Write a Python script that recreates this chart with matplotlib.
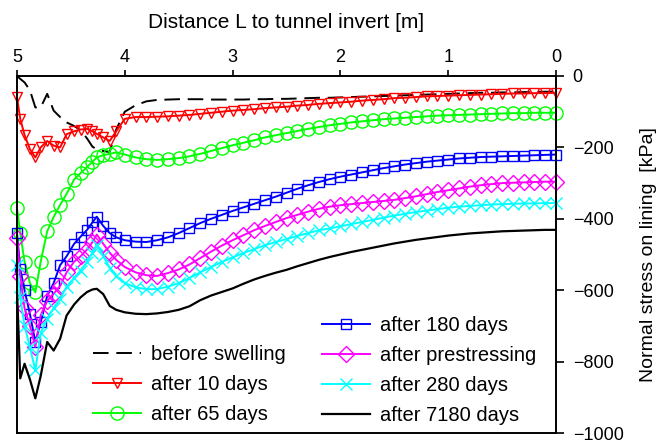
import matplotlib
matplotlib.use('Agg')
import matplotlib.pyplot as plt

plt.rcParams['font.family'] = ['Liberation Sans', 'DejaVu Sans']

# distance L to tunnel invert [m]
L = [5.0, 4.97, 4.93, 4.88, 4.83, 4.78, 4.72, 4.66, 4.60, 4.54, 4.47, 4.41, 4.35, 4.30, 4.26, 4.20, 4.14, 4.08, 4.00,
     3.9, 3.8, 3.7, 3.6, 3.5, 3.4, 3.3, 3.2, 3.1, 3.0, 2.9, 2.8, 2.7, 2.6, 2.5, 2.4, 2.3, 2.2, 2.1, 2.0,
     1.9, 1.8, 1.7, 1.6, 1.5, 1.4, 1.3, 1.2, 1.1, 1.0, 0.9, 0.8, 0.7, 0.6, 0.5, 0.4, 0.3, 0.2, 0.1, 0.0]

# normal stress on lining [kPa]
before_swelling = [0, -8, -18, -40, -88, -88, -50, -97, -115, -130, -140, -152, -175, -198, -205, -210, -213, -150, -100,
                   -82, -71, -67, -66, -65, -65, -65, -66, -66, -66, -66, -65, -65, -64, -64, -63, -62, -61, -61, -60,
                   -59, -58, -57, -56, -55, -54, -53, -52, -51, -50, -49, -48, -47, -47, -46, -46, -45, -45, -44, -44]
after_10 = [-60, -120, -165, -205, -228, -200, -182, -195, -200, -163, -155, -150, -148, -155, -162, -172, -182, -155, -120,
            -115, -115, -114, -113, -111, -109, -106, -103, -100, -97, -95, -93, -90, -88, -86, -83, -81, -78, -76, -74,
            -72, -69, -67, -65, -62, -61, -59, -57, -56, -55, -54, -53, -52, -51, -50, -49, -49, -48, -48, -47]
after_65 = [-370, -440, -520, -580, -606, -520, -435, -395, -361, -330, -290, -272, -255, -240, -228, -222, -218, -214, -220,
            -228, -233, -235, -233, -230, -225, -218, -210, -202, -194, -187, -180, -172, -166, -160, -154, -148, -143, -138, -134,
            -130, -127, -124, -121, -119, -117, -115, -113, -111, -110, -109, -108, -107, -106, -105, -104, -104, -103, -103, -103]
after_180 = [-440, -540, -600, -667, -745, -690, -616, -580, -530, -505, -470, -450, -431, -410, -394, -420, -440, -452, -460,
             -464, -465, -460, -452, -440, -426, -412, -400, -389, -378, -368, -358, -348, -338, -327, -316, -306, -297, -289, -282,
             -276, -270, -264, -258, -253, -248, -244, -240, -237, -234, -231, -229, -227, -226, -225, -224, -223, -222, -221, -220]
after_prestressing = [-454, -560, -650, -700, -759, -670, -630, -610, -588, -550, -520, -505, -486, -465, -444, -470, -495, -515, -535,
                      -550, -558, -560, -552, -542, -528, -510, -492, -475, -460, -446, -432, -420, -409, -398, -389, -380, -372, -366, -362,
                      -359, -356, -353, -350, -347, -342, -337, -331, -325, -320, -315, -310, -306, -303, -300, -299, -298, -297, -296, -296]
after_280 = [-530, -620, -700, -760, -824, -720, -680, -650, -625, -590, -565, -545, -520, -495, -472, -505, -537, -560, -580,
             -592, -597, -597, -590, -580, -566, -550, -535, -521, -508, -496, -485, -474, -465, -457, -448, -440, -432, -427, -421,
             -415, -409, -403, -397, -391, -386, -381, -377, -373, -369, -366, -364, -362, -360, -359, -358, -357, -357, -356, -356]
after_7180 = [-600, -847, -806, -850, -903, -840, -745, -769, -736, -671, -640, -620, -605, -598, -596, -611, -644, -655, -662,
              -666, -667, -665, -661, -655, -645, -628, -615, -605, -595, -582, -570, -560, -551, -543, -533, -524, -515, -507, -500,
              -493, -487, -481, -475, -469, -464, -459, -455, -451, -447, -444, -441, -439, -437, -435, -434, -433, -432, -431, -431]

fig = plt.figure(figsize=(6.7, 4.43), dpi=100)
ax = fig.add_axes([17/670, 1-433/443, (556-17)/670, (433-76)/443])

lw = 1.4
l0, = ax.plot(L, before_swelling, color='black', lw=lw, dashes=(8, 4), label='before swelling')
l1, = ax.plot(L, after_10, color='#ff0000', lw=lw, marker='v', ms=7.5, mfc='none', label='after 10 days', clip_on=False)
l2, = ax.plot(L, after_65, color='#00ff00', lw=lw, marker='o', ms=9.5, mfc='none', label='after 65 days', clip_on=False)
l3, = ax.plot(L, after_180, color='#0000ff', lw=lw, marker='s', ms=7.5, mfc='none', label='after 180 days', clip_on=False)
l4, = ax.plot(L, after_prestressing, color='#ff00ff', lw=lw, marker='D', ms=8, mfc='none', label='after prestressing', clip_on=False)
l5, = ax.plot(L, after_280, color='#00ffff', lw=lw, marker='x', ms=8.5, label='after 280 days', clip_on=False)
l6, = ax.plot(L, after_7180, color='black', lw=1.6, label='after 7180 days')

ax.set_xlim(5, 0)
ax.set_ylim(-1000, 0)
ax.set_xticks([5, 4, 3, 2, 1, 0])
ax.set_yticks([0, -200, -400, -600, -800, -1000])

ax.xaxis.tick_top()
ax.xaxis.set_label_position('top')
ax.yaxis.tick_right()
ax.yaxis.set_label_position('right')
ax.tick_params(direction='out', width=1.2, labelsize=13)
ax.tick_params(axis='y', length=6, pad=6)
ax.tick_params(axis='x', length=4, pad=3)
for s in ax.spines.values():
    s.set_linewidth(1.4)

ax.set_xlabel('Distance L to tunnel invert [m]', fontsize=15, labelpad=15)
ax.set_ylabel('Normal stress on lining  [kPa]', fontsize=14, labelpad=12)

leg_kw = dict(frameon=False, fontsize=14.5, handlelength=2.4, handletextpad=0.5,
              labelspacing=0.55, borderpad=0, borderaxespad=0, loc='upper left')
leg1 = fig.legend(handles=[l0, l1, l2], bbox_to_anchor=(93/670, 1-345/443), **leg_kw)
leg2 = fig.legend(handles=[l3, l4, l5, l6], bbox_to_anchor=(322/670, 1-316/443), **leg_kw)

plt.savefig('out.png', dpi=100)
